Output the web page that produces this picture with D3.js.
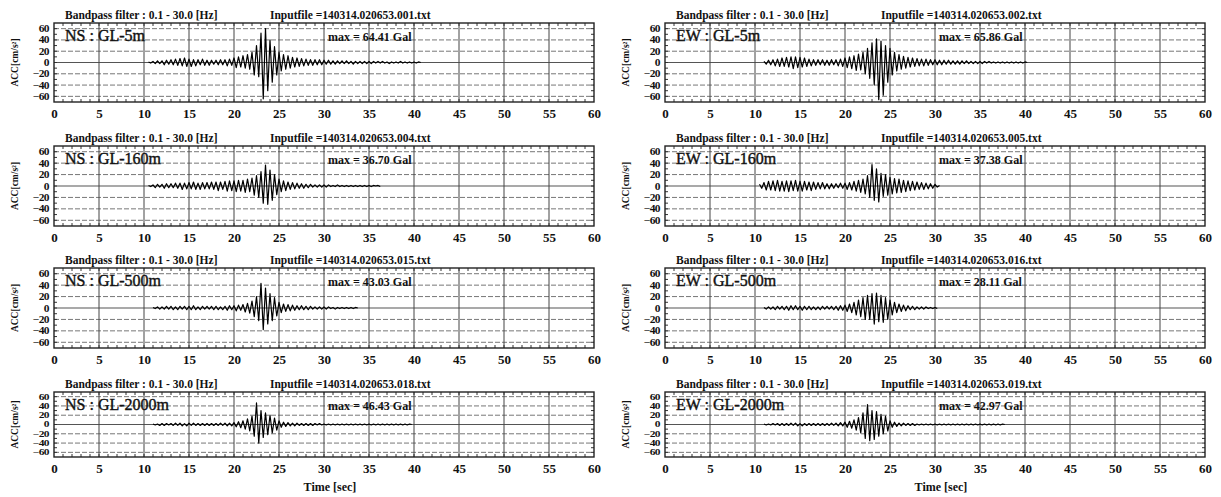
<!DOCTYPE html>
<html><head><meta charset="utf-8">
<script src="https://cdn.jsdelivr.net/npm/d3@7"></script>
<style>body{margin:0;background:#fff}svg{display:block}</style>
</head><body><svg id="c" width="1221" height="497"></svg>
<script>
// ---------- data ----------
const timeTicks = [0,5,10,15,20,25,30,35,40,45,50,55,60];
const accTicks = [60,40,20,0,-20,-40,-60];
const filterLabel = "Bandpass filter : 0.1 - 30.0 [Hz]";
const components = ["NS","EW"];
const depths = ["GL-5m","GL-160m","GL-500m","GL-2000m"];
const inputFilesNS = ["140314.020653.001.txt","140314.020653.004.txt","140314.020653.015.txt","140314.020653.018.txt"];
const inputFilesEW = ["140314.020653.002.txt","140314.020653.005.txt","140314.020653.016.txt","140314.020653.019.txt"];
const maxNS = ["64.41","36.70","43.03","46.43"];
const maxEW = ["65.86","37.38","28.11","42.97"];
const startNS = [10.5,10.5,11,11];
const startEW = [11,10.5,11,11];
const sampleStep = 0.25; // seconds between read-off samples

const accNS_5m = [1,-1,
 2,-2,3,-2, 3,-4,4,-3, 5,-4,6,-5, 7,-6,8,-7, 6,-7,5,-6, 5,-4,6,-5, 4,-5,4,-3, 4,-4,5,-4, 5,-6,6,-5,
 8,-9,10,-8, 12,-10,14,-12, 18,-22,30,-25, 52,-64.41,60,-50, 40,-35,28,-22, 18,-15,14,-12, 12,-10,9,-8,
 8,-7,7,-6, 6,-5,5,-5, 5,-4,5,-4, 4,-3,4,-3, 3,-3,3,-2, 3,-2,3,-2, 2,-3,2,-2, 2,-2,2,-2, 2,-2,2,-1,
 2,-1,2,-1, 1,-2,1,-1, 1,-1,2,-1, 1,-1,1,-1, 1,-1,1,0];
const accEW_5m = [2,-3,4,-4, 5,-6,6,-7, 8,-7,9,-8, 10,-11,10,-9, 9,-8,8,-7, 6,-6,5,-5, 5,-4,5,-5, 4,-5,5,-4,
 5,-6,6,-7, 8,-9,10,-11, 12,-14,15,-13, 18,-20,25,-28, 35,-40,42,-65.86, 38,-58,30,-35, 25,-22,18,-15,
 14,-12,11,-10, 9,-8,8,-7, 7,-6,6,-6, 6,-5,5,-4, 5,-4,4,-4, 4,-3,4,-3, 3,-3,3,-3, 3,-2,3,-2, 2,-2,2,-2,
 2,-2,2,-1, 2,-1,1,-1, 1,-1,1,-1, 1,-1,1,-1, 1,-1,1,-1, 1,0];
const accNS_160m = [1,-1,
 2,-3,3,-2, 3,-4,4,-3, 4,-3,5,-4, 5,-6,5,-5, 6,-5,7,-6, 5,-6,6,-5, 6,-5,7,-6, 7,-8,7,-6, 8,-9,9,-8,
 9,-10,10,-9, 10,-11,12,-10, 14,-16,18,-20, 25,-30,36.70,-32, 28,-25,20,-15, 12,-10,9,-8, 7,-6,6,-5,
 5,-4,4,-4, 3,-3,3,-2, 2,-2,2,-2, 2,-2,2,-1, 1,-1,2,-1, 1,-1,1,-1, 1,-1,1,-1, 1,-1,1,-1, 1,-1,1,0, 1,-1];
const accEW_160m = [3,-4,
 6,-7,8,-7, 9,-8,10,-9, 8,-9,9,-10, 9,-8,10,-9, 8,-9,8,-7, 7,-8,7,-6, 6,-5,6,-5, 4,-5,4,-4, 4,-3,5,-4,
 5,-6,6,-7, 8,-9,10,-11, 12,-14,18,-20, 37.38,-25,30,-28, 22,-18,20,-16, 15,-14,13,-12, 12,-11,10,-10,
 9,-8,8,-7, 7,-6,6,-6, 5,-5,4,-4, 3,-2,1];
const accNS_500m = [1,-1,2,-2, 2,-2,3,-2, 3,-3,2,-3, 3,-2,3,-3, 3,-3,4,-3, 2,-3,3,-2, 3,-2,3,-3, 3,-3,2,-3,
 3,-4,4,-3, 4,-5,5,-4, 6,-7,8,-9, 12,-15,20,-22, 43.03,-38,35,-28, 25,-22,18,-14, 10,-8,7,-6, 6,-5,5,-4,
 4,-3,4,-3, 3,-3,3,-2, 2,-2,2,-2, 2,-2,2,-1, 1,-2,1,-1, 1,-1,1,-1, 1,-1,1,0];
const accEW_500m = [1,-2,2,-2, 2,-3,3,-2, 3,-3,3,-4, 4,-3,4,-3, 3,-4,3,-3, 3,-3,2,-3, 2,-3,3,-2, 3,-2,3,-3,
 3,-4,4,-4, 5,-6,7,-8, 10,-12,14,-15, 18,-20,22,-20, 25,-28.11,26,-24, 22,-25,18,-20, 14,-12,10,-8,
 7,-6,5,-5, 4,-3,3,-3, 2,-2,2,-2, 2,-1,1,-1, 1,-1];
const accNS_2000m = [1,-1,1,-2, 2,-2,2,-1, 2,-2,3,-2, 3,-3,2,-3, 3,-2,3,-2, 2,-2,2,-2, 2,-2,2,-2, 2,-2,3,-2,
 3,-3,3,-3, 4,-5,6,-7, 8,-10,12,-14, 18,-25,46.43,-40, 30,-28,25,-22, 20,-18,14,-12, 8,-6,5,-4,
 4,-3,3,-3, 3,-2,2,-2, 2,-2,2,-2, 2,-1,2,-1, 1,-1,1,-1, 1,-1,1,-1, 1,-1,1,-1, 1,-1,1,-1, 1,-1,1,-1,
 1,-1,1,-1, 1,-1,1,-1, 1,-1,1,-1, 1,-1,1,-1, 1,-1,1,0];
const accEW_2000m = [1,-1,1,-1, 2,-1,2,-2, 2,-2,2,-2, 3,-2,3,-3, 2,-3,2,-2, 2,-2,2,-2, 2,-2,2,-2, 2,-2,3,-2,
 3,-3,4,-3, 5,-6,7,-8, 10,-12,15,-18, 25,-30,42.97,-35, 30,-32,28,-25, 22,-20,18,-14, 8,-6,5,-4,
 3,-3,3,-2, 2,-2,2,-2, 1,-1,1,-1, 1,-1,1,-1, 1,-1,1,-1, 1,-1,1,-1, 1,-1,1,-1, 1,-1,1,-1, 1,-1,1,-1,
 1,-1,1,-1, 1,-1,1,-1, 1,-1,1,0];

const seriesNS = [accNS_5m, accNS_160m, accNS_500m, accNS_2000m];
const seriesEW = [accEW_5m, accEW_160m, accEW_500m, accEW_2000m];

// ---------- layout ----------
const svg = d3.select("#c");
const colLeft = [54, 665];
const plotW = 540;
const rowTop = [23, 146, 268, 392];
const rowH = [79, 80, 80, 65];
const serif = "'Liberation Serif','Times New Roman',serif";
const ink = "#111";

function txt(g) {
  return g.append("text").attr("font-family", serif).attr("fill", ink);
}

function panel(ci, ri) {
  const comp = components[ci];
  const left = colLeft[ci], top = rowTop[ri], h = rowH[ri];
  const vals = ci === 0 ? seriesNS[ri] : seriesEW[ri];
  const t0 = ci === 0 ? startNS[ri] : startEW[ri];
  const file = ci === 0 ? inputFilesNS[ri] : inputFilesEW[ri];
  const mx = ci === 0 ? maxNS[ri] : maxEW[ri];

  const x = d3.scaleLinear().domain([0, 60]).range([left, left + plotW]);
  const y = d3.scaleLinear().domain([-70, 70]).range([top + h, top]);
  const g = svg.append("g");

  // horizontal dashed grid
  g.selectAll(".hg").data(accTicks.filter(v => v !== 0)).join("line")
    .attr("x1", x(0)).attr("x2", x(60)).attr("y1", d => y(d)).attr("y2", d => y(d))
    .attr("stroke", "#777").attr("stroke-width", 1).attr("stroke-dasharray", "5,2");
  // zero line
  g.append("line").attr("x1", x(0)).attr("x2", x(60)).attr("y1", y(0)).attr("y2", y(0))
    .attr("stroke", "#555").attr("stroke-width", 1.2);
  // vertical grid every 5 s
  g.selectAll(".vg").data(timeTicks.slice(1, -1)).join("line")
    .attr("x1", d => x(d)).attr("x2", d => x(d)).attr("y1", top).attr("y2", top + h)
    .attr("stroke", "#444").attr("stroke-width", 1);
  // minor ticks on frame every 1 s
  const sec = d3.range(1, 60);
  g.selectAll(".mt").data(sec).join("line")
    .attr("x1", d => x(d)).attr("x2", d => x(d)).attr("y1", top).attr("y2", top + 3)
    .attr("stroke", "#333");
  g.selectAll(".mb").data(sec).join("line")
    .attr("x1", d => x(d)).attr("x2", d => x(d)).attr("y1", top + h - 3).attr("y2", top + h)
    .attr("stroke", "#333");
  const tens = d3.range(-60, 70, 10);
  g.selectAll(".ml").data(tens).join("line")
    .attr("x1", x(0)).attr("x2", x(0) + 3).attr("y1", d => y(d)).attr("y2", d => y(d)).attr("stroke", "#333");
  g.selectAll(".mr").data(tens).join("line")
    .attr("x1", x(60) - 3).attr("x2", x(60)).attr("y1", d => y(d)).attr("y2", d => y(d)).attr("stroke", "#333");

  // trace
  const pts = vals.map((v, i) => [t0 + i * sampleStep, v]);
  g.append("path").datum(pts)
    .attr("d", d3.line().x(d => x(d[0])).y(d => y(d[1])))
    .attr("fill", "none").attr("stroke", "#000").attr("stroke-width", 1.2).attr("stroke-linejoin", "round");

  // frame
  g.append("rect").attr("x", left).attr("y", top).attr("width", plotW).attr("height", h)
    .attr("fill", "none").attr("stroke", "#222").attr("stroke-width", 1.4);

  // axes
  const ax = g.append("g").attr("transform", `translate(0,${top + h + 4})`)
    .call(d3.axisBottom(x).tickValues(timeTicks).tickSize(0).tickPadding(3));
  ax.select(".domain").remove();
  ax.selectAll("text").attr("font-family", serif).attr("font-weight", "bold").attr("font-size", 13).attr("fill", ink);

  const ay = g.append("g").attr("transform", `translate(${left - 3},0)`)
    .call(d3.axisLeft(y).tickValues(accTicks).tickSize(0).tickPadding(2));
  ay.select(".domain").remove();
  const yFs = 11.5;
  const spacing = Math.abs(y(20) - y(0));
  const squeeze = Math.min(1, spacing / (yFs * 1.2));
  ay.selectAll("text").attr("font-family", serif).attr("font-weight", "bold").attr("font-size", yFs).attr("fill", ink)
    .attr("letter-spacing", "-0.6").attr("transform", `scale(1,${squeeze})`);

  // y title
  txt(g).attr("transform", `translate(${left - 36},${top + h / 2}) rotate(-90)`)
    .attr("text-anchor", "middle").attr("font-weight", "bold").attr("font-size", 9.5)
    .text("ACC[cm/s²]");

  // header texts
  txt(g).attr("x", left + 11).attr("y", top - 4).attr("font-weight", "bold")
    .attr("font-size", 11.5).text(filterLabel);
  txt(g).attr("x", left + 216).attr("y", top - 4).attr("font-weight", "bold")
    .attr("font-size", 11.5).text("Inputfile =" + file);
  txt(g).attr("x", left + 11).attr("y", top + 18).attr("font-size", 16)
    .attr("stroke", ink).attr("stroke-width", 0.4).text(comp + " : " + depths[ri]);
  txt(g).attr("x", left + 274).attr("y", top + 18).attr("font-weight", "bold")
    .attr("font-size", 12).text("max = " + mx + " Gal");

  if (ri === 3) {
    txt(g).attr("x", left + plotW / 2 + 6).attr("y", top + h + 34).attr("text-anchor", "middle")
      .attr("font-weight", "bold").attr("font-size", 12).text("Time [sec]");
  }
}

for (let c = 0; c < 2; c++) for (let r = 0; r < 4; r++) panel(c, r);
</script>
</body></html>
